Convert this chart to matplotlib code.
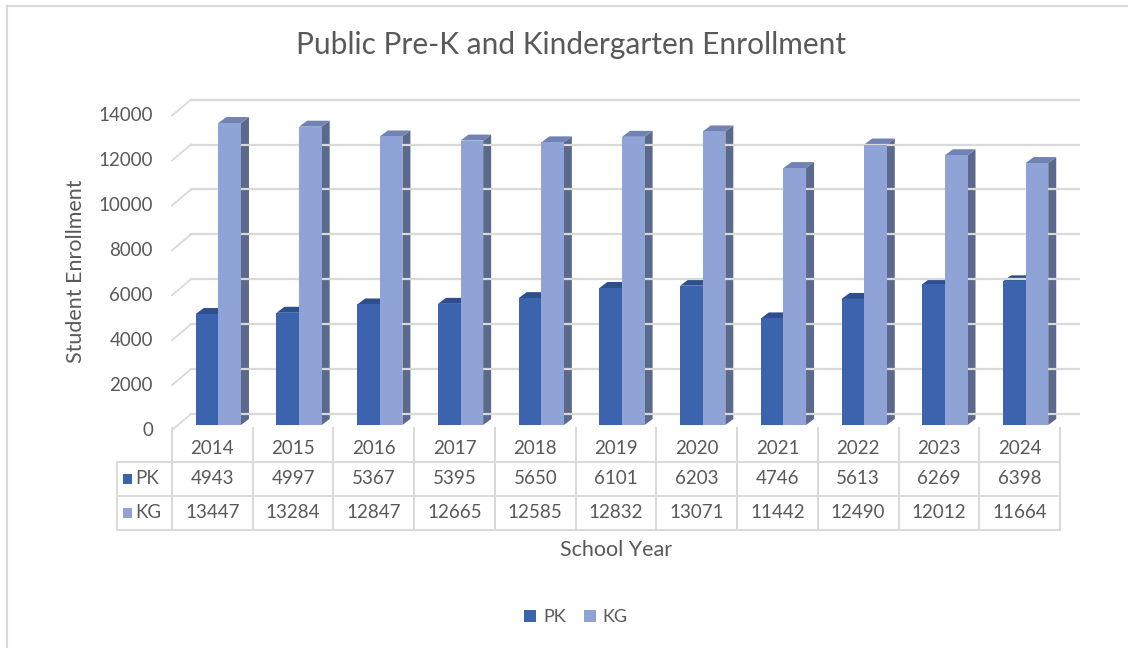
import matplotlib.pyplot as plt
from matplotlib.patches import Polygon, Rectangle
from matplotlib.lines import Line2D
from matplotlib.transforms import offset_copy

years = ['2014', '2015', '2016', '2017', '2018', '2019', '2020', '2021', '2022', '2023', '2024']
pk = [4943, 4997, 5367, 5395, 5650, 6101, 6203, 4746, 5613, 6269, 6398]
kg = [13447, 13284, 12847, 12665, 12585, 12832, 13071, 11442, 12490, 12012, 11664]
series = [('PK', pk), ('KG', kg)]
y_ticks = [0, 2000, 4000, 6000, 8000, 10000, 12000, 14000]

# colours: front, top, side
colors = {
    'PK': ('#3c64ae', '#2d4f8e', '#2f4d87'),
    'KG': ('#8fa3d6', '#7183b3', '#5a698c'),
}
text_color = '#595959'
grid_color = '#d9d9d9'
plt.rcParams['font.family'] = ['Lato', 'DejaVu Sans']

W, H = 1128, 648
fig = plt.figure(figsize=(W / 100, H / 100), dpi=100)

# front plane of the 3d box, in pixels
x0, x1 = 172, 1060
y0, y1 = 430, 115.6
ax = fig.add_axes([x0 / W, 1 - y0 / H, (x1 - x0) / W, (y0 - y1) / H])
n = len(years)
ax.set_xlim(-0.5, n - 0.5)
ax.set_ylim(0, 14000)
ax.axis('off')

px_x = (x1 - x0) / n          # pixels per category
px_y = (y0 - y1) / 14000      # pixels per unit

# back wall gridlines and the diagonal ticks on the left wall
back = offset_copy(ax.transData, fig=fig, x=19, y=16, units='dots')
for t in y_ticks:
    ax.plot([-0.5, n - 0.5], [t, t], color=grid_color, lw=1.6, transform=back, clip_on=False)
    ax.plot([-0.5, -0.5 + 19 / px_x], [t, t + 16 / px_y], color=grid_color, lw=1.3, clip_on=False)
    ax.text(-0.5 - 19 / px_x, t, str(t), ha='right', va='center', fontsize=13.5, color=text_color)

# bars sit half-way into the box depth
mid = offset_copy(ax.transData, fig=fig, x=6, y=5, units='dots')
bw = 0.28
ddx, ddy = 8 / px_x, 6 / px_y
for k, (name, vals) in enumerate(series):
    front, top, side = colors[name]
    for i, v in enumerate(vals):
        left = i - bw + k * bw
        right = left + bw
        ax.add_patch(Polygon([(right, 0), (right + ddx, ddy), (right + ddx, v + ddy), (right, v)],
                             closed=True, fc=side, ec='none', transform=mid, clip_on=False))
        ax.add_patch(Polygon([(left, v), (right, v), (right + ddx, v + ddy), (left + ddx, v + ddy)],
                             closed=True, fc=top, ec='none', transform=mid, clip_on=False))
    ax.bar([i - bw / 2 + k * bw for i in range(n)], vals, width=bw, color=front,
           transform=mid, clip_on=False, zorder=3)

# data table under the plot
tab = fig.add_axes([x0 / W, 1 - 530 / H, (x1 - x0) / W, (530 - 428) / H])
tab.set_xlim(-0.5, n - 0.5)
tab.set_ylim(3, 0)
tab.axis('off')
line_kw = dict(color=grid_color, lw=1.4, clip_on=False)
left_edge = -0.5 - 55 / px_x
for i in range(n + 1):
    tab.plot([i - 0.5, i - 0.5], [0, 3], **line_kw)
tab.plot([left_edge, left_edge], [1, 3], **line_kw)
for r in (1, 2, 3):
    tab.plot([left_edge, n - 0.5], [r, r], **line_kw)
for i, yr in enumerate(years):
    tab.text(i, 0.6, yr, ha='center', va='center', fontsize=13.5, color=text_color)
for r, (name, vals) in enumerate(series, start=1):
    for i, v in enumerate(vals):
        tab.text(i, r + 0.5, str(v), ha='center', va='center', fontsize=13.5, color=text_color)
    tab.add_patch(Rectangle((left_edge + 0.08, r + 0.36), 0.11, 0.3, fc=colors[name][0],
                            ec='none', clip_on=False))
    tab.text(left_edge + 0.23, r + 0.5, name, ha='left', va='center', fontsize=13.5, color=text_color)

# titles
fig.text(571 / W, 1 - 45 / H, 'Public Pre-K and Kindergarten Enrollment', ha='center', va='center',
         fontsize=21.5, color=text_color)
fig.text(76 / W, 1 - 271 / H, 'Student Enrollment', rotation=90, ha='center', va='center',
         fontsize=15.5, color=text_color)
fig.text(616 / W, 1 - 550 / H, 'School Year', ha='center', va='center', fontsize=15.5, color=text_color)

handles = [Rectangle((0, 0), 1, 1, fc=colors[name][0], ec='none') for name, _ in series]
fig.legend(handles, [s[0] for s in series], loc='center', bbox_to_anchor=(576 / W, 1 - 617 / H),
           ncol=2, frameon=False, fontsize=13, handlelength=0.65, handleheight=0.65,
           handletextpad=0.4, columnspacing=1.0, labelcolor=text_color)

# chart area border (left and top edges show)
fig.add_artist(Line2D([7 / W, 7 / W], [0, 1 - 6 / H], color=grid_color, lw=1.5))
fig.add_artist(Line2D([7 / W, 1], [1 - 6 / H, 1 - 6 / H], color=grid_color, lw=1.5))

fig.savefig('out.png', dpi=100)
